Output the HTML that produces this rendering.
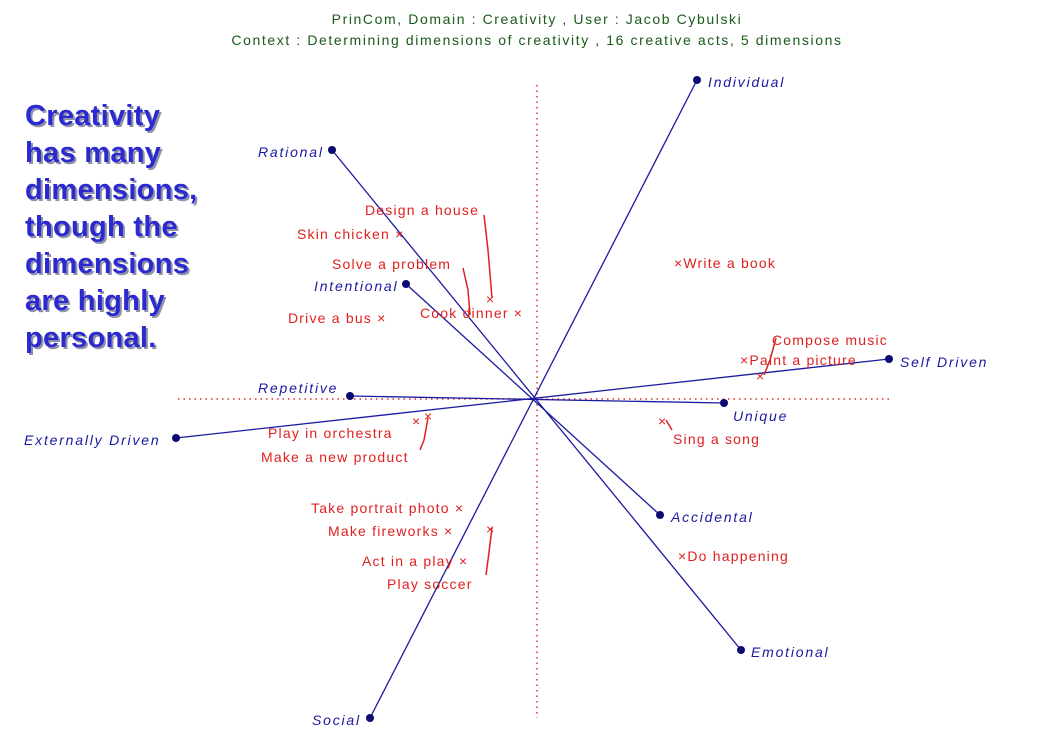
<!DOCTYPE html>
<html><head><meta charset="utf-8"><style>
body{margin:0;background:#fff;width:1044px;height:739px;overflow:hidden;position:relative;font-family:"Liberation Sans",sans-serif}
.side{position:absolute;left:25px;top:98px;font-weight:bold;font-size:29px;line-height:37px;color:#2a2ad0;text-shadow:2px 2px 0 #9090a8;letter-spacing:0.3px}
</style></head><body>
<svg width="1044" height="739" style="position:absolute;left:0;top:0" font-family="Liberation Sans, sans-serif">
<g font-size="14" fill="#1a5a1a" text-anchor="middle" letter-spacing="1.6">
<text x="537" y="24">PrinCom, Domain : Creativity , User : Jacob Cybulski</text>
<text x="537" y="45">Context : Determining dimensions of creativity , 16 creative acts, 5 dimensions</text></g>
<g stroke="#e03030" stroke-width="1.5" stroke-dasharray="1.5 4">
<line x1="178" y1="399" x2="890" y2="399"/><line x1="537" y1="85" x2="537" y2="718"/></g>
<g stroke="#1a1aa0" stroke-width="1.3">
<line x1="697" y1="80" x2="370" y2="718"/>
<line x1="332" y1="150" x2="741" y2="650"/>
<line x1="406" y1="284" x2="660" y2="515"/>
<line x1="350" y1="396" x2="724" y2="403"/>
<line x1="176" y1="438" x2="889" y2="359"/></g>
<g fill="#0a0a70">
<circle cx="697" cy="80" r="4"/><circle cx="370" cy="718" r="4"/><circle cx="332" cy="150" r="4"/><circle cx="741" cy="650" r="4"/><circle cx="406" cy="284" r="4"/><circle cx="660" cy="515" r="4"/><circle cx="350" cy="396" r="4"/><circle cx="724" cy="403" r="4"/><circle cx="176" cy="438" r="4"/><circle cx="889" cy="359" r="4"/></g>
<g font-size="14" font-style="italic" fill="#1a1aa0" letter-spacing="1.8">
<text x="708" y="87">Individual</text>
<text x="258" y="157">Rational</text>
<text x="314" y="291">Intentional</text>
<text x="258" y="393">Repetitive</text>
<text x="24" y="445">Externally Driven</text>
<text x="900" y="367">Self Driven</text>
<text x="733" y="421">Unique</text>
<text x="671" y="522">Accidental</text>
<text x="751" y="657">Emotional</text>
<text x="312" y="725">Social</text>
</g>
<g stroke="#e02020" stroke-width="1.5" fill="none">
<polyline points="484,215 488,250 492,298"/>
<polyline points="463,268 468,290 470,315"/>
<polyline points="776,338 770,360 764,375"/>
<polyline points="428,418 424,440 420,450"/>
<polyline points="492,528 488,560 486,575"/>
<polyline points="666,420 672,430"/>
</g>
<g font-size="14" fill="#e02020" letter-spacing="1.2">
<text x="365" y="215">Design a house</text>
<text x="297" y="239">Skin chicken ×</text>
<text x="332" y="269">Solve a problem</text>
<text x="486" y="304">×</text>
<text x="420" y="318">Cook dinner ×</text>
<text x="288" y="323">Drive a bus ×</text>
<text x="674" y="268">×Write a book</text>
<text x="772" y="345">Compose music</text>
<text x="740" y="365">×Paint a picture</text>
<text x="756" y="381">×</text>
<text x="658" y="426">×</text>
<text x="673" y="444">Sing a song</text>
<text x="268" y="438">Play in orchestra</text>
<text x="412" y="426">×</text>
<text x="424" y="421">×</text>
<text x="261" y="462">Make a new product</text>
<text x="311" y="513">Take portrait photo ×</text>
<text x="328" y="536">Make fireworks ×</text>
<text x="486" y="534">×</text>
<text x="362" y="566">Act in a play ×</text>
<text x="387" y="589">Play soccer</text>
<text x="678" y="561">×Do happening</text>
</g>
</svg>
<div class="side">Creativity<br>has many<br>dimensions,<br>though the<br>dimensions<br>are highly<br>personal.</div>
</body></html>
